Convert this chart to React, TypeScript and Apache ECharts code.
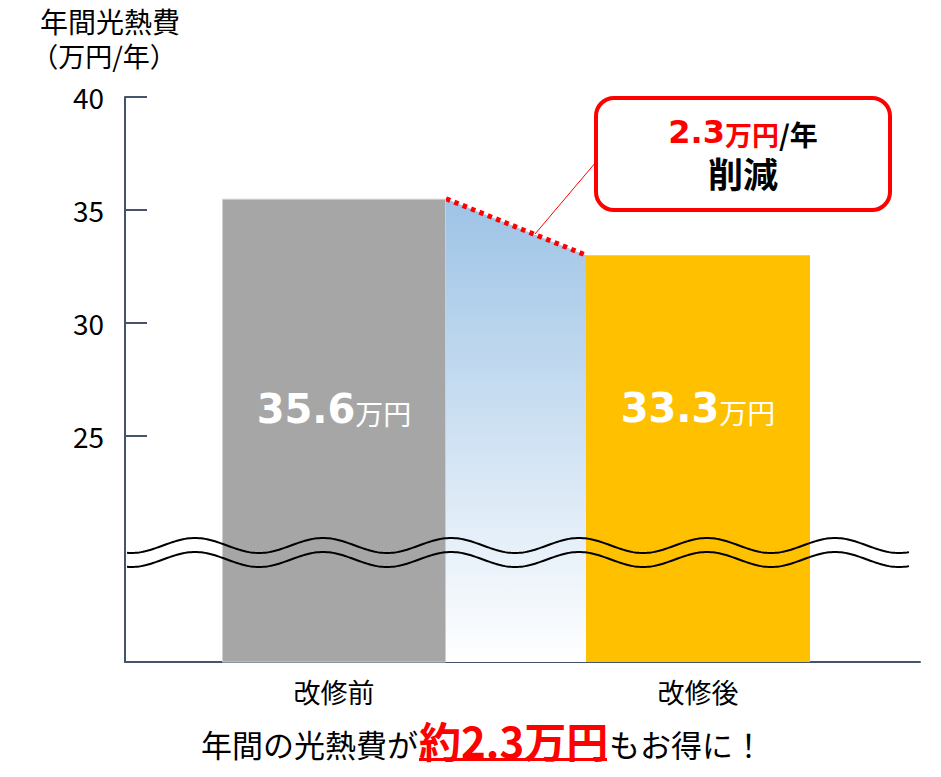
import React, { useEffect, useRef } from "react";
import * as echarts from "echarts";

const categories = ["改修前", "改修後"];
const barValues = [35.5, 33.0];
const labelValues = [35.6, 33.3];
const barColors = ["#A6A6A6", "#FFC000"];
const savings = 2.3;
const yTicks = [25, 30, 35, 40];
const yMin = 15;
const yMax = 40;

const BAR_W = 224;
const AXIS_COLOR = "#44546A";
const JP = "'Noto Sans CJK JP', sans-serif";
const NUM = "'DejaVu Sans', sans-serif";

function wavePoints(cy: number): number[][] {
  const pts: number[][] = [];
  for (let x = 127; x <= 909; x += 2) {
    pts.push([x, cy - 7.5 * Math.cos((2 * Math.PI * (x - 323)) / 128)]);
  }
  return pts;
}

export default function App() {
  const ref = useRef<HTMLDivElement>(null);
  useEffect(() => {
    document.body.style.margin = "0";
    const chart = echarts.init(ref.current!, undefined, { renderer: "svg" });
    const option: any = {
      animation: false,
      textStyle: { fontFamily: JP },
      grid: [
        { left: 125, right: 21, top: 97, bottom: 115 },
        { left: 152, right: 61, top: 97, bottom: 115 },
      ],
      xAxis: [
        {
          type: "value",
          gridIndex: 0,
          min: 0,
          max: 1,
          axisLine: { show: true, onZero: false, lineStyle: { color: AXIS_COLOR, width: 2 } },
          axisTick: { show: false },
          axisLabel: { show: false },
          splitLine: { show: false },
        },
        {
          type: "category",
          gridIndex: 1,
          data: categories,
          axisLine: { show: false },
          axisTick: { show: false },
          axisLabel: { fontFamily: JP, fontSize: 27, color: "#000", margin: 16 },
        },
      ],
      yAxis: [
        {
          type: "value",
          gridIndex: 0,
          min: yMin,
          max: yMax,
          axisLine: { show: true, onZero: false, lineStyle: { color: AXIS_COLOR, width: 2 } },
          axisTick: {
            show: true,
            inside: true,
            length: 22,
            customValues: yTicks,
            lineStyle: { color: AXIS_COLOR, width: 2 },
          },
          axisLabel: {
            customValues: yTicks,
            fontFamily: JP,
            fontSize: 28,
            color: "#000",
            margin: 21,
          },
          splitLine: { show: false },
        },
        {
          type: "value",
          gridIndex: 1,
          min: yMin,
          max: yMax,
          show: false,
        },
      ],
      series: [
        {
          type: "custom",
          xAxisIndex: 1,
          yAxisIndex: 1,
          z: 1,
          data: [[0, barValues[0], 1, barValues[1]]],
          encode: { x: [0, 2], y: [1, 3] },
          renderItem: (params: any, api: any) => {
            const p0 = api.coord([api.value(0), api.value(1)]);
            const p1 = api.coord([api.value(2), api.value(3)]);
            const base = api.coord([api.value(0), yMin])[1];
            const half = BAR_W / 2;
            const x0 = p0[0] + half;
            const x1 = p1[0] - half;
            return {
              type: "group",
              children: [
                {
                  type: "polygon",
                  shape: { points: [[x0, p0[1]], [x1, p1[1]], [x1, base], [x0, base]] },
                  style: {
                    fill: {
                      type: "linear",
                      x: 0,
                      y: 0,
                      x2: 0,
                      y2: 1,
                      colorStops: [
                        { offset: 0, color: "#9DC3E6" },
                        { offset: 1, color: "#FFFFFF" },
                      ],
                    },
                  },
                },
                {
                  type: "line",
                  shape: { x1: x0, y1: p0[1], x2: x1, y2: p1[1] },
                  style: { stroke: "#FF0000", lineWidth: 5, lineDash: [4.5, 4.5] },
                },
              ],
            };
          },
        },
        {
          type: "bar",
          xAxisIndex: 1,
          yAxisIndex: 1,
          barWidth: BAR_W,
          z: 2,
          data: barValues.map((v, i) => ({
            value: v,
            itemStyle: {
              color: barColors[i],
              borderColor: i === 0 ? "#CFCFCF" : barColors[i],
              borderWidth: i === 0 ? 1 : 0,
            },
            label: {
              show: true,
              position: "insideBottom",
              distance: 234,
              formatter: `{n|${labelValues[i].toFixed(1)}}{u|万円}`,
              rich: {
                n: {
                  fontFamily: NUM,
                  fontWeight: "bold",
                  fontSize: 40,
                  color: "#FFFFFF",
                  verticalAlign: "bottom",
                  lineHeight: 42,
                },
                u: {
                  fontFamily: JP,
                  fontSize: 28,
                  color: "#FFFFFF",
                  verticalAlign: "bottom",
                  lineHeight: 42,
                  padding: [0, 0, 2, 0],
                },
              },
            },
          })),
        },
      ],
      graphic: [
        {
          type: "text",
          x: 110,
          y: 4,
          style: {
            text: "{a|年間光熱費}\n{b|（万円/年）}",
            align: "center",
            verticalAlign: "top",
            rich: {
              a: {
                fontFamily: JP,
                fontSize: 28,
                lineHeight: 34,
                fill: "#000",
                verticalAlign: "middle",
              },
              b: {
                fontFamily: JP,
                fontSize: 27,
                lineHeight: 34,
                fill: "#000",
                verticalAlign: "middle",
                padding: [0, 12, 0, 0],
              },
            },
          },
        },
        {
          type: "polyline",
          z: 100,
          shape: { points: wavePoints(545.5) },
          style: { stroke: "#000", lineWidth: 2, fill: "none" },
        },
        {
          type: "polyline",
          z: 100,
          shape: { points: wavePoints(559.5) },
          style: { stroke: "#000", lineWidth: 2, fill: "none" },
        },
        {
          type: "line",
          z: 50,
          shape: { x1: 535, y1: 234, x2: 596, y2: 162 },
          style: { stroke: "#FF0000", lineWidth: 1 },
        },
        {
          type: "rect",
          z: 50,
          shape: { x: 596, y: 98, width: 294, height: 112, r: 18 },
          style: { fill: "#FFFFFF", stroke: "#FF0000", lineWidth: 4 },
        },
        {
          type: "text",
          z: 60,
          x: 743,
          y: 107,
          style: {
            text: `{a|${savings.toFixed(1)}}{b|万円}{c|/年}\n{d|削減}`,
            align: "center",
            verticalAlign: "top",
            rich: {
              a: {
                fontFamily: NUM,
                fontWeight: "bold",
                fontSize: 32,
                fill: "#FF0000",
                verticalAlign: "bottom",
                lineHeight: 41,
              },
              b: {
                fontFamily: JP,
                fontWeight: "bold",
                fontSize: 27,
                fill: "#FF0000",
                verticalAlign: "bottom",
                lineHeight: 41,
              },
              c: {
                fontFamily: JP,
                fontWeight: "bold",
                fontSize: 28,
                fill: "#000",
                verticalAlign: "bottom",
                lineHeight: 41,
              },
              d: {
                fontFamily: JP,
                fontWeight: "bold",
                fontSize: 35,
                fill: "#000",
                verticalAlign: "middle",
                lineHeight: 48,
              },
            },
          },
        },
        {
          type: "text",
          x: 418,
          y: 743,
          style: {
            text: "年間の光熱費が",
            fontFamily: JP,
            fontSize: 31,
            lineHeight: 34,
            fill: "#000",
            align: "right",
            verticalAlign: "middle",
          },
        },
        {
          type: "text",
          x: 419,
          y: 739,
          style: {
            text: `約${savings.toFixed(1)}万円`,
            fontFamily: JP,
            fontWeight: "bold",
            fontSize: 42,
            lineHeight: 42,
            fill: "#FF0000",
            align: "left",
            verticalAlign: "middle",
          },
        },
        {
          type: "line",
          shape: { x1: 419, y1: 759.5, x2: 607, y2: 759.5 },
          style: { stroke: "#FF0000", lineWidth: 3 },
        },
        {
          type: "text",
          x: 609,
          y: 743,
          style: {
            text: "もお得に！",
            fontFamily: JP,
            fontSize: 31,
            lineHeight: 34,
            fill: "#000",
            align: "left",
            verticalAlign: "middle",
          },
        },
      ],
    };
    chart.setOption(option);
    return () => chart.dispose();
  }, []);
  return <div ref={ref} style={{ width: 941, height: 777 }} />;
}
